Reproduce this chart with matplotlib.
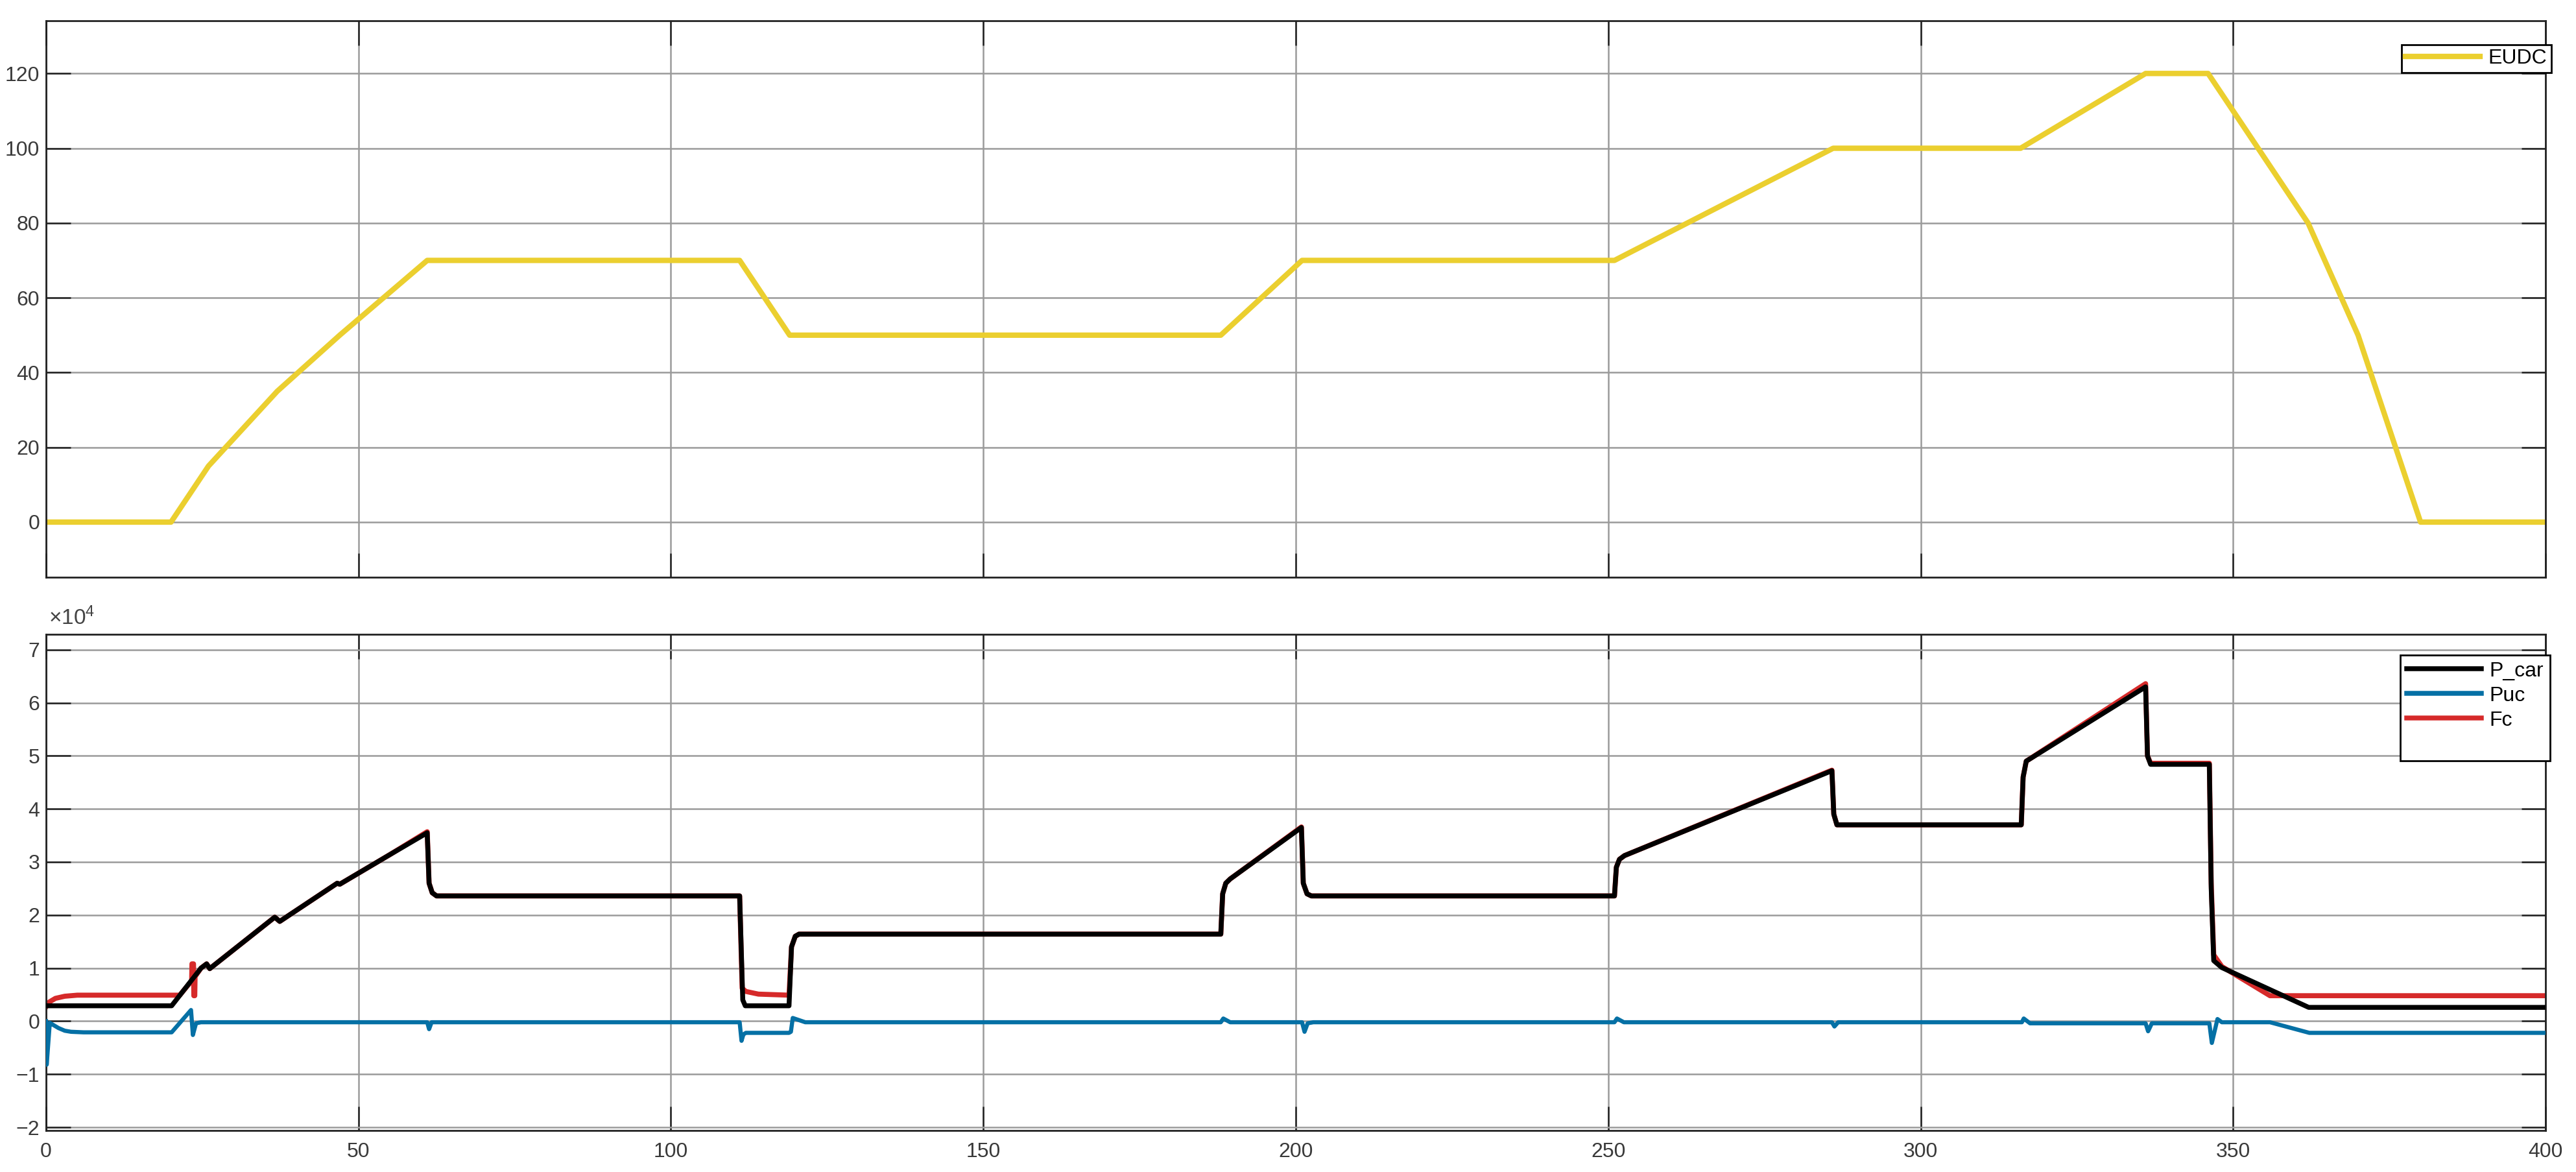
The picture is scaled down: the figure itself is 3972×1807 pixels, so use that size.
import numpy as np
import matplotlib
matplotlib.use('agg')
import matplotlib.pyplot as plt
from matplotlib.lines import Line2D

plt.rcParams['font.family'] = ['Liberation Sans', 'DejaVu Sans']
plt.rcParams['mathtext.default'] = 'regular'

# EUDC speed profile (km/h)
t_eudc = [0, 20, 26, 37, 47, 61, 111, 119, 188, 201, 251, 286, 316, 336, 346, 362, 370, 380, 400]
v_eudc = [0, 0, 15, 35, 50, 70, 70, 50, 50, 70, 70, 100, 100, 120, 120, 80, 50, 0, 0]

# powers, x10^4 W
t_car = [0, 20.1, 24.8, 25.7, 26.2, 36.6, 37.4, 46.6, 47.0, 54.9, 61.0, 61.3, 61.8, 62.5,
         111.0, 111.5, 111.9, 118.9, 119.3, 119.9, 120.5, 188.0, 188.3, 188.8, 189.5,
         200.9, 201.2, 201.8, 202.5, 251.0, 251.3, 251.8, 252.6, 285.8, 286.1, 286.6,
         316.1, 316.4, 316.9, 336.0, 336.3, 336.8, 346.2, 346.5, 346.9, 348.2, 362.1, 400]
p_car = [0.29, 0.29, 1.0, 1.08, 0.99, 1.96, 1.88, 2.6, 2.58, 3.13, 3.55, 2.6, 2.42, 2.36,
         2.36, 0.4, 0.29, 0.29, 1.4, 1.6, 1.64, 1.64, 2.4, 2.6, 2.68,
         3.65, 2.6, 2.4, 2.36, 2.36, 2.9, 3.05, 3.12, 4.72, 3.9, 3.7,
         3.7, 4.6, 4.9, 6.3, 5.0, 4.84, 4.84, 2.5, 1.14, 1.01, 0.26, 0.26]

t_fc = [0, 0.5, 1.5, 3, 5, 21.4, 23.3, 23.35, 23.6, 23.65, 23.8, 23.85, 24.8, 25.7, 26.2,
        36.6, 37.4, 46.6, 47.0, 54.9, 61.0, 61.3, 61.8, 62.5, 111.0, 111.4, 112.0, 114.0,
        118.9, 119.3, 119.9, 120.5, 188.0, 188.3, 188.8, 189.5, 200.9, 201.2, 201.8, 202.5,
        251.0, 251.3, 251.8, 252.6, 285.8, 286.1, 286.6, 316.1, 316.4, 316.9, 336.0, 336.3,
        336.8, 346.2, 346.5, 346.9, 348.2, 355.9, 400]
p_fc = [0.27, 0.36, 0.43, 0.47, 0.49, 0.49, 0.76, 1.08, 1.08, 0.48, 0.48, 0.84, 1.0, 1.08, 0.99,
        1.96, 1.88, 2.6, 2.58, 3.13, 3.57, 2.6, 2.42, 2.36, 2.36, 0.62, 0.56, 0.51,
        0.49, 1.4, 1.6, 1.64, 1.64, 2.4, 2.6, 2.68, 3.66, 2.6, 2.4, 2.36,
        2.36, 2.9, 3.05, 3.12, 4.73, 3.9, 3.7, 3.7, 4.6, 4.9, 6.36, 5.0,
        4.86, 4.86, 2.6, 1.25, 1.03, 0.48, 0.48]

t_uc = [0, 0.1, 0.6, 1, 2, 3, 4, 6, 20.1, 23.2, 23.5, 24.0, 24.8, 61.0, 61.3, 61.7, 62.5,
        111.0, 111.3, 111.6, 112.0, 118.9, 119.2, 119.5, 120.5, 121.5, 188.0, 188.4, 189.5,
        201.0, 201.4, 201.9, 202.8, 251.0, 251.4, 252.5, 285.8, 286.2, 286.8, 316.2, 316.5,
        317.5, 336.0, 336.4, 337.0, 346.2, 346.6, 347.5, 348.2, 355.9, 362.2, 400]
p_uc = [0.0, -0.82, -0.03, -0.06, -0.13, -0.18, -0.2, -0.21, -0.21, 0.21, -0.26, -0.04, -0.02,
        -0.02, -0.15, -0.02, -0.02, -0.02, -0.37, -0.25, -0.22, -0.22, -0.2, 0.06, 0.02, -0.02,
        -0.02, 0.05, -0.02, -0.02, -0.2, -0.04, -0.02, -0.02, 0.05, -0.02, -0.02, -0.1, -0.02,
        -0.02, 0.05, -0.04, -0.04, -0.19, -0.04, -0.04, -0.41, 0.04, -0.02, -0.02, -0.22, -0.22]

c_eudc = '#ebcf2f'
c_car = '#000000'
c_uc = '#0570a5'
c_fc = '#d62a2a'
grid_c = '#9a9a9a'
tick_c = '#3a3a3a'
fs = 23

fig = plt.figure(figsize=(39.73, 18.07), dpi=100)
ax1 = fig.add_axes([0.01787, 0.50747, 0.97005, 0.47482])
ax2 = fig.add_axes([0.01787, 0.03542, 0.97005, 0.42335])

def style(ax):
    ax.set_xlim(0, 400)
    ax.set_xticks(np.arange(0, 401, 50))
    ax.grid(True, color=grid_c, linewidth=1.8)
    ax.set_axisbelow(True)
    ax.tick_params(direction='in', length=27, width=1.8, top=True, right=True,
                   color='#222222', labelcolor=tick_c, labelsize=fs, pad=7)
    ax.tick_params(axis='x', pad=13)
    for s in ax.spines.values():
        s.set_linewidth(2.0)
        s.set_color('#222222')

ax1.plot(t_eudc, v_eudc, color=c_eudc, lw=6, label='EUDC')
style(ax1)
ax1.set_ylim(-14.75, 134.1)
ax1.set_yticks(np.arange(0, 121, 20))
ax1.tick_params(axis='x', labelbottom=False)
leg1 = ax1.legend(loc='upper right', bbox_to_anchor=(1.0023, 0.9569), fontsize=fs,
                  handlelength=3.6, handletextpad=0.4, borderpad=0.2, borderaxespad=0,
                  fancybox=False, framealpha=1, edgecolor='black')
leg1.get_frame().set_linewidth(2.0)

ax2.plot(t_fc, p_fc, color=c_fc, lw=5.6, zorder=2)
ax2.plot(t_car, p_car, color=c_car, lw=5.4, zorder=3)
ax2.plot(t_uc, p_uc, color=c_uc, lw=4.6, zorder=4)
style(ax2)
ax2.set_ylim(-2.06, 7.29)
ax2.set_yticks(np.arange(-2, 8, 1))
ax2.text(0.001, 1.01, r'$\times 10^{4}$', transform=ax2.transAxes, fontsize=fs + 1,
         color='#444444', ha='left', va='bottom')

handles = [Line2D([], [], color=c_car, lw=5.4),
           Line2D([], [], color=c_uc, lw=5.4),
           Line2D([], [], color=c_fc, lw=5.4),
           Line2D([], [], color='none', lw=0)]
leg2 = ax2.legend(handles, ['P_car', 'Puc', 'Fc', ' '], loc='upper right',
                  bbox_to_anchor=(1.0018, 0.9582), fontsize=fs, handlelength=3.6,
                  handletextpad=0.4, borderpad=0.3, labelspacing=0.25, borderaxespad=0,
                  fancybox=False, framealpha=1, edgecolor='black')
leg2.get_frame().set_linewidth(2.0)

fig.savefig('out.png', dpi=100)
